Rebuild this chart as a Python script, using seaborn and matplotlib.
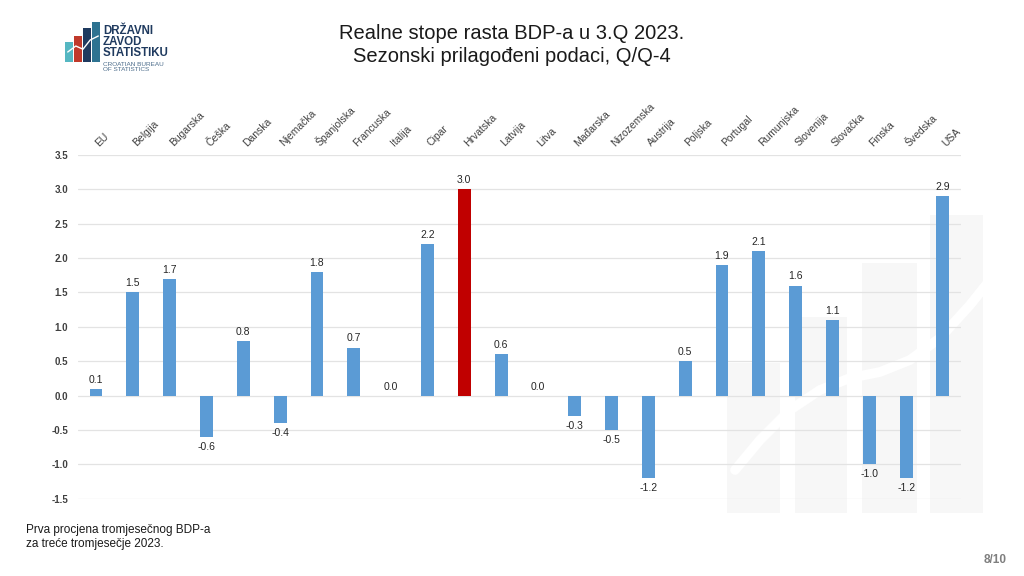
import matplotlib
matplotlib.use("Agg")
import matplotlib.pyplot as plt
import matplotlib.transforms as mtransforms
import seaborn as sns
import pandas as pd
import numpy as np
from matplotlib.patches import Rectangle

countries = ["EU", "Belgija", "Bugarska", "Češka", "Danska", "Njemačka", "Španjolska",
             "Francuska", "Italija", "Cipar", "Hrvatska", "Latvija", "Litva", "Mađarska",
             "Nizozemska", "Austrija", "Poljska", "Portugal", "Rumunjska", "Slovenija",
             "Slovačka", "Finska", "Švedska", "USA"]
growth = [0.1, 1.5, 1.7, -0.6, 0.8, -0.4, 1.8, 0.7, 0.0, 2.2, 3.0, 0.6, 0.0, -0.3,
          -0.5, -1.2, 0.5, 1.9, 2.1, 1.6, 1.1, -1.0, -1.2, 2.9]
yticks = [-1.5, -1.0, -0.5, 0.0, 0.5, 1.0, 1.5, 2.0, 2.5, 3.0, 3.5]
highlight = "Hrvatska"

sns.set_theme(style="white")
plt.rcParams["font.family"] = ["Liberation Sans", "DejaVu Sans"]

df = pd.DataFrame({"country": countries, "growth": growth})
palette = {c: ("#C00000" if c == highlight else "#5B9BD5") for c in countries}

W, H = 1024, 576
fig = plt.figure(figsize=(W / 100, H / 100), dpi=100)
fig.patch.set_facecolor("white")

# faint watermark (stylised logo) on the right
wm_color = "#F7F7F7"
for (x0, x1, ytop) in [(727, 780, 363), (795, 847, 317), (862, 917, 263), (930, 983, 215)]:
    fig.patches.append(Rectangle((x0 / W, 1 - 513 / H), (x1 - x0) / W, (513 - ytop) / H,
                                 transform=fig.transFigure, facecolor=wm_color,
                                 edgecolor="none", zorder=-10))
cx = np.array([735, 760, 790, 820, 850, 880, 910, 940, 970, 990])
cy = np.array([470, 440, 410, 390, 378, 372, 360, 338, 305, 280])
fig.add_artist(plt.Line2D(cx / W, 1 - cy / H, transform=fig.transFigure, color="white",
                          linewidth=7, solid_capstyle="round", zorder=-9))

ax = fig.add_axes([0.0758, 0.134, 0.863, 0.597])
ax.set_facecolor("none")
sns.barplot(data=df, x="country", y="growth", hue="country", palette=palette,
            legend=False, width=0.35, saturation=1, linewidth=0, ax=ax, zorder=3)

ax.set_ylim(-1.5, 3.5)
ax.set_yticks(yticks)
ax.set_yticklabels([f"{v:.1f}" for v in yticks], fontsize=7, fontweight="bold", color="#404040")
ax.yaxis.grid(True, color="#E3E3E3", linewidth=0.9, zorder=0)
ax.set_axisbelow(True)
for s in ax.spines.values():
    s.set_visible(False)
ax.tick_params(axis="y", length=0, pad=7)
ax.set_xlabel("")
ax.set_ylabel("")

ax.xaxis.tick_top()
ax.set_xticks(range(len(countries)))
ax.set_xticklabels(countries, rotation=45, ha="left", rotation_mode="anchor",
                   fontsize=7.5, color="#404040")
ax.tick_params(axis="x", length=0, pad=5)
offset = mtransforms.ScaledTranslation(5 / 100, 0, fig.dpi_scale_trans)
for lab in ax.get_xticklabels():
    lab.set_transform(lab.get_transform() + offset)

for i, v in enumerate(growth):
    if v >= 0:
        ax.text(i, v + 0.06, f"{v:.1f}", ha="center", va="bottom", fontsize=7.5, color="#262626")
    else:
        ax.text(i, v - 0.07, f"{v:.1f}", ha="center", va="top", fontsize=7.5, color="#262626")

fig.text(0.5, 0.942, "Realne stope rasta BDP-a u 3.Q 2023.", ha="center", va="center",
         fontsize=14.5, color="#1a1a1a")
fig.text(0.5, 0.902, "Sezonski prilagođeni podaci, Q/Q-4", ha="center", va="center",
         fontsize=14.5, color="#1a1a1a")

fig.text(0.025, 0.068, "Prva procjena tromjesečnog BDP-a\nza treće tromjesečje 2023.",
         ha="left", va="center", fontsize=8.5, color="#1a1a1a", linespacing=1.15)
fig.text(0.983, 0.027, "8/10", ha="right", va="center", fontsize=8.5, color="#7f7f7f",
         fontweight="bold")

# logo
lax = fig.add_axes([65 / W, 1 - 62 / H, 36 / W, 40 / H])
lax.set_xlim(0, 4)
lax.set_ylim(0, 10)
lax.axis("off")
for x, h, c in [(0, 5, "#55B7C2"), (1, 6.5, "#C0392B"), (2, 8.5, "#1F3A5F"), (3, 10, "#2E7391")]:
    lax.add_patch(Rectangle((x + 0.05, 0), 0.85, h, facecolor=c, edgecolor="none"))
lax.plot([0.3, 1.2, 2.0, 2.8, 3.7], [2.5, 4.0, 3.2, 5.5, 6.5], color="white", linewidth=1)
fig.text(103 / W, 1 - 42 / H, "DRŽAVNI\nZAVOD\nSTATISTIKU", ha="left", va="center", fontsize=8.3,
         fontweight="bold", color="#1F3A5F", linespacing=0.88)
fig.text(103 / W, 1 - 67 / H, "CROATIAN BUREAU\nOF STATISTICS", ha="left", va="center", fontsize=4.6,
         color="#4A6B8A", linespacing=1.0)

fig.savefig("out.png", dpi=100, facecolor="white")
